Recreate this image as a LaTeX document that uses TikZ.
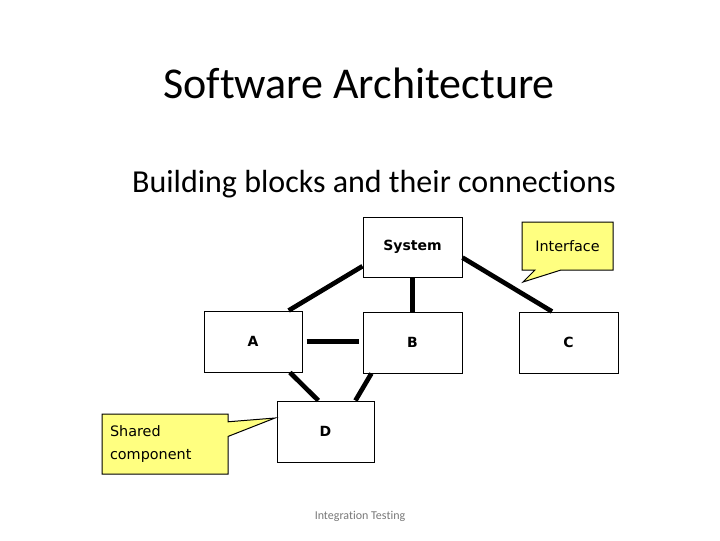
\documentclass[tikz,border=0pt]{standalone}
\usepackage{fontspec}
\setmainfont{Carlito}[Ligatures={TeX,NoCommon}]
\newfontfamily\blockfont{DejaVu Sans}
\usetikzlibrary{shapes.callouts}
\definecolor{noteyellow}{RGB}{255,255,128}
\definecolor{footgray}{RGB}{120,120,120}
\tikzset{every picture/.style={line width=0.75pt}}
\tikzset{
  block/.style={draw,fill=white,inner sep=0pt,minimum width=74.25pt,minimum height=45.75pt,font=\blockfont\bfseries\fontsize{10.5}{12}\selectfont},
  link/.style={line width=3.5pt},
  note/.style={rectangle callout,draw,fill=noteyellow,inner sep=0pt,font=\blockfont\fontsize{10.8}{17}\selectfont},
}

\begin{document}
\begin{tikzpicture}[x=0.75pt,y=0.75pt,yscale=-1,xscale=1]
		\useasboundingbox (0,0) rectangle (720,540);
		
		% Text Node
		\draw (359,98) node [anchor=base][inner sep=0.75pt] (title) {\fontsize{33}{40}\selectfont Software Architecture};
		% Text Node
		\draw (374,192) node [anchor=base][inner sep=0.75pt] (subtitle) {\fontsize{24}{29}\selectfont Building blocks and their connections};
		
		%Shape: Rectangle
		\draw (412.5,247) node [block,minimum height=45pt] (sys) {System};
		%Shape: Rectangle
		\draw (253,341.5) node [block,minimum width=73.5pt] (A) {A};
		%Shape: Rectangle
		\draw (412.5,342.5) node [block] (B) {B};
		%Shape: Rectangle
		\draw (568.5,342.5) node [block] (C) {C};
		%Shape: Rectangle
		\draw (325.5,431.5) node [block,minimum width=72.75pt] (D) {D};
		
		%Straight Lines
		\draw [link] (sys.201) -- (A.41) ;
		%Straight Lines
		\draw [link] (sys.south) -- (B.north) ;
		%Straight Lines
		\draw [link] (sys.348.6) -- (C.118.4) ;
		%Straight Lines
		\draw [link,shorten <=3pt,shorten >=3pt] (A.east) -- (A.east -| B.west) ;
		%Straight Lines
		\draw [link] (A.320.5) -- (D.103.8) ;
		%Straight Lines
		\draw [link] (B.217) -- (D.46) ;
		
		%Shape: Callout
		\coordinate (itip) at (523,282);
		\draw (567.5,246) node [note,minimum width=68.25pt,minimum height=36pt,callout pointer width=19.5pt,callout absolute pointer={(itip)}] (iface) {Interface};
		%Shape: Callout
		\coordinate (stip) at (275,418);
		\draw (165,444) node [note,text width=82.5pt,align=left,inner xsep=6pt,minimum height=45pt,callout pointer width=11pt,callout absolute pointer={(stip)}] (shared) {Shared\\component};
		
		% Text Node
		\draw (360,519) node [anchor=base][inner sep=0.75pt,text=footgray] (foot) {\fontsize{9}{11}\selectfont Integration Testing};
		
	\end{tikzpicture}
\end{document}
